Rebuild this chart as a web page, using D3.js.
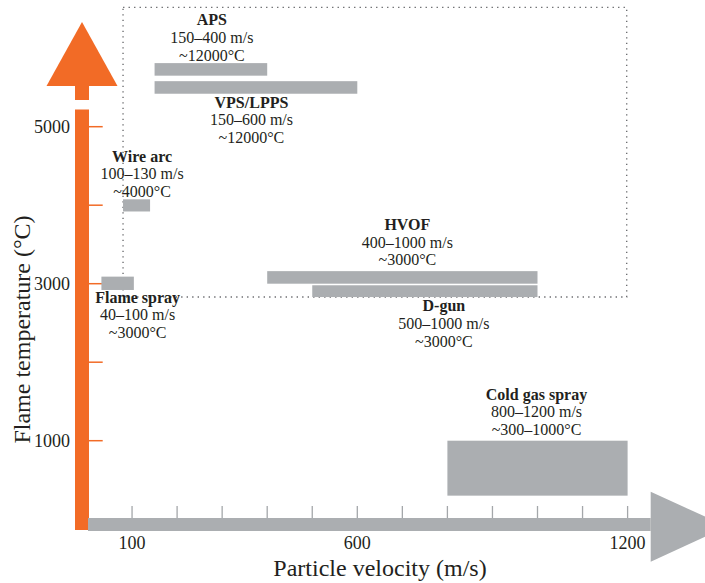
<!DOCTYPE html>
<html>
<head>
<meta charset="utf-8">
<script src="https://cdn.jsdelivr.net/npm/d3@7"></script>
<style>
  html, body { margin: 0; padding: 0; background: #ffffff; }
  svg { display: block; }
</style>
</head>
<body>
<script>
// ---- Data: thermal spray processes, particle velocity vs flame temperature ----
const processes    = ["APS", "VPS/LPPS", "Wire arc", "Flame spray", "HVOF", "D-gun", "Cold gas spray"];
const velocityMin  = [150, 150, 80, 32, 400, 500, 800];      // m/s
const velocityMax  = [400, 600, 140, 104, 1000, 1000, 1200]; // m/s
const tempMin      = [5650, 5420, 3920, 2920, 3000, 2830, 300];   // °C
const tempMax      = [5810, 5580, 4075, 3090, 3160, 2980, 1000];  // °C
const velocityText = ["150–400 m/s", "150–600 m/s", "100–130 m/s", "40–100 m/s",
                      "400–1000 m/s", "500–1000 m/s", "800–1200 m/s"];
const tempText     = ["~12000°C", "~12000°C", "~4000°C", "~3000°C",
                      "~3000°C", "~3000°C", "~300–1000°C"];

const xTicks      = [100, 200, 300, 400, 500, 600, 700, 800, 900, 1000, 1100, 1200];
const xTickLabels = [100, 600, 1200];
const yTicks      = [1000, 2000, 3000, 4000, 5000];
const yTickLabels = [1000, 3000, 5000];

// Dotted frame around the combustion / plasma spray group (data units)
const groupVelocity = [80, 1198];
const groupTemp     = [2830, 6520];

// ---- Layout ----
const W = 705, H = 583;
const ORANGE = "#f26b26", GREY = "#abaeb1", TICK_GREY = "#a4a7aa", INK = "#231f20";
const SERIF = "'Liberation Serif', 'Times New Roman', serif";

// label placement: which side of the bar, horizontal nudge in px
const labelSide  = ["above", "below", "above", "below", "above", "below", "above"];
const labelShift = [1, -4.5, 5.5, 20, 5, 19, -1];
const labelGap   = [2.6, 14, 2.6, 12.7, 6, 14.4, 6];
const lineH = 17.6;

const x = d3.scaleLinear().domain([0, 1200]).range([87, 627.6]);
const y = d3.scaleLinear().domain([0, 6000]).range([519.2, 48.2]);

const svg = d3.select("body").append("svg")
  .attr("width", W).attr("height", H)
  .attr("viewBox", `0 0 ${W} ${H}`);

// Dotted group frame
svg.append("rect")
  .attr("x", x(groupVelocity[0]))
  .attr("y", y(groupTemp[1]))
  .attr("width", x(groupVelocity[1]) - x(groupVelocity[0]))
  .attr("height", y(groupTemp[0]) - y(groupTemp[1]))
  .attr("fill", "none")
  .attr("stroke", "#6d6e71")
  .attr("stroke-width", 1.4)
  .attr("stroke-dasharray", "1.4,4.1");

// ---- Y axis: orange arrow ----
const yAxis = svg.append("g");
const axL = 75, axR = 89, axC = (axL + axR) / 2;
yAxis.append("rect").attr("x", axL).attr("y", 109.5).attr("width", axR - axL).attr("height", 530 - 109.5).attr("fill", ORANGE);
yAxis.append("rect").attr("x", axL).attr("y", 85).attr("width", axR - axL).attr("height", 100 - 85).attr("fill", ORANGE);
yAxis.append("path")
  .attr("d", `M${axC - 35.5},86 L${axC},22 L${axC + 35.5},86 Z`)
  .attr("fill", ORANGE);

yAxis.selectAll("line.ytick").data(yTicks).join("line")
  .attr("class", "ytick")
  .attr("x1", axR).attr("x2", 102.7)
  .attr("y1", d => y(d)).attr("y2", d => y(d))
  .attr("stroke", ORANGE).attr("stroke-width", 1.5);

yAxis.selectAll("text.ylab").data(yTickLabels).join("text")
  .attr("class", "ylab")
  .attr("x", 70).attr("y", d => y(d) + 6)
  .attr("text-anchor", "end")
  .attr("font-family", SERIF).attr("font-size", 18).attr("fill", INK)
  .text(d => d);

svg.append("text")
  .attr("transform", `translate(30,${329.5}) rotate(-90)`)
  .attr("text-anchor", "middle")
  .attr("font-family", SERIF).attr("font-size", 24).attr("fill", INK)
  .text("Flame temperature (°C)");

// ---- X axis: grey arrow ----
const xAxis = svg.append("g");
const shaftTop = 518, shaftBot = 531;
xAxis.append("rect").attr("x", 88).attr("y", shaftTop).attr("width", 650.7 - 88).attr("height", shaftBot - shaftTop).attr("fill", GREY);
xAxis.append("path")
  .attr("d", "M650.7,491.7 L727,526.7 L650.7,561.7 Z")
  .attr("fill", GREY);

xAxis.selectAll("line.xtick").data(xTicks).join("line")
  .attr("class", "xtick")
  .attr("x1", d => x(d)).attr("x2", d => x(d))
  .attr("y1", 506).attr("y2", shaftTop)
  .attr("stroke", TICK_GREY).attr("stroke-width", 1.3);

xAxis.selectAll("text.xlab").data(xTickLabels).join("text")
  .attr("class", "xlab")
  .attr("x", d => x(d)).attr("y", 549)
  .attr("text-anchor", "middle")
  .attr("font-family", SERIF).attr("font-size", 18).attr("fill", INK)
  .text(d => d);

svg.append("text")
  .attr("x", 380).attr("y", 576)
  .attr("text-anchor", "middle")
  .attr("font-family", SERIF).attr("font-size", 24).attr("fill", INK)
  .text("Particle velocity (m/s)");

// ---- Process bars ----
const rows = processes.map((p, i) => ({
  name: p, v0: velocityMin[i], v1: velocityMax[i], t0: tempMin[i], t1: tempMax[i],
  vText: velocityText[i], tText: tempText[i],
  side: labelSide[i], shift: labelShift[i], gap: labelGap[i]
}));

svg.append("g").selectAll("rect").data(rows).join("rect")
  .attr("x", d => x(d.v0))
  .attr("y", d => y(d.t1))
  .attr("width", d => x(d.v1) - x(d.v0))
  .attr("height", d => y(d.t0) - y(d.t1))
  .attr("fill", GREY);

// ---- Labels ----
const labels = svg.append("g")
  .attr("font-family", SERIF).attr("font-size", 16).attr("fill", INK)
  .attr("text-anchor", "middle");

rows.forEach(d => {
  const cx = (x(d.v0) + x(d.v1)) / 2 + d.shift;
  const lines = [d.name, d.vText, d.tText];
  const first = d.side === "above"
    ? y(d.t1) - d.gap - 2 * lineH
    : y(d.t0) + d.gap;
  lines.forEach((s, k) => {
    labels.append("text")
      .attr("x", cx)
      .attr("y", first + k * lineH)
      .attr("font-weight", k === 0 ? "bold" : "normal")
      .text(s);
  });
});
</script>
</body>
</html>
